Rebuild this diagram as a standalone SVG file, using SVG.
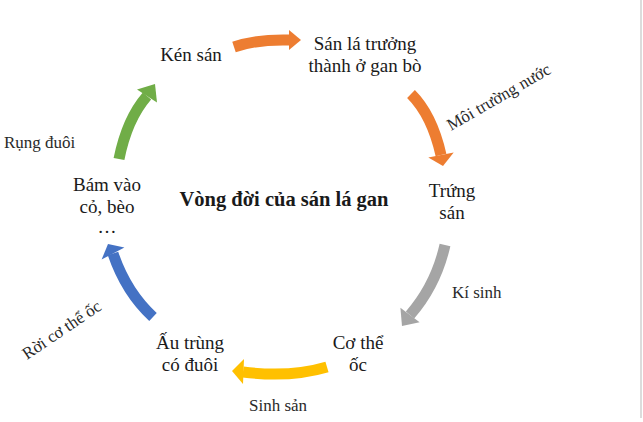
<svg xmlns="http://www.w3.org/2000/svg" width="643" height="422" viewBox="0 0 643 422">
<style>
text{font-family:"Liberation Serif","Times New Roman",serif;fill:#1a1a1a}
.n{font-size:19px;text-anchor:middle}
.e{font-size:17px;fill:#2a2a2a}
.t{font-size:20.5px;font-weight:bold;text-anchor:middle}
.b{fill:none;stroke-width:11}
</style>
<rect x="0" y="0" width="643" height="422" fill="#ffffff"/>
<line x1="641" y1="0" x2="641" y2="418" stroke="#dcdcdc" stroke-width="2"/>
<g id="connectors">
<g id="c1"><path class="b" stroke="#ED7D31" d="M234,47 Q258,39 290,40"/><polygon fill="#ED7D31" points="289,30 301,40 289,50"/></g>
<g id="c2"><path class="b" stroke="#ED7D31" d="M411,94 Q432,115 441,155"/><polygon fill="#ED7D31" points="453.7,152.4 443,166 428.3,157.6"/></g>
<g id="c3"><path class="b" stroke="#A5A5A5" d="M445,245 Q436,285 410,315"/><polygon fill="#A5A5A5" points="419.6,322.2 402,326 400.4,307.8"/></g>
<g id="c4"><path class="b" stroke="#FFC000" d="M327,367 Q290,378 243,372"/><polygon fill="#FFC000" points="244,359 232,371 243,384"/></g>
<g id="c5"><path class="b" stroke="#4472C4" d="M153,317 Q126,292 113,253.5"/><polygon fill="#4472C4" points="124.4,247.4 108,244 101.6,259.6"/></g>
<g id="c6"><path class="b" stroke="#70AD47" d="M119,159 Q127,119 147,96"/><polygon fill="#70AD47" points="157,102.5 155,84 137,89.5"/></g>
</g>
<g id="title"><text class="t" x="284" y="206">Vòng đời của sán lá gan</text></g>
<g id="n-ken"><text class="n" x="191" y="61">Kén sán</text></g>
<g id="n-san"><text class="n" x="365" y="50">Sán lá trưởng</text><text class="n" x="365" y="72">thành ở gan bò</text></g>
<g id="n-trung"><text class="n" x="452" y="197">Trứng</text><text class="n" x="452" y="219">sán</text></g>
<g id="n-oc"><text class="n" x="358" y="349">Cơ thể</text><text class="n" x="358" y="371">ốc</text></g>
<g id="n-au"><text class="n" x="190" y="349">Ấu trùng</text><text class="n" x="190" y="371">có đuôi</text></g>
<g id="n-bam"><text class="n" x="107" y="191">Bám vào</text><text class="n" x="107" y="213">cỏ, bèo</text><text class="n" x="107" y="233">…</text></g>
<g id="labels">
<text class="e" x="0" y="0" transform="translate(451,131) rotate(-30)">Môi trường nước</text>
<text class="e" x="452" y="298">Kí sinh</text>
<text class="e" x="249" y="411">Sinh sản</text>
<text class="e" x="0" y="0" transform="translate(27,360) rotate(-34)">Rời cơ thể ốc</text>
<text class="e" x="4" y="148">Rụng đuôi</text>
</g>
</svg>
